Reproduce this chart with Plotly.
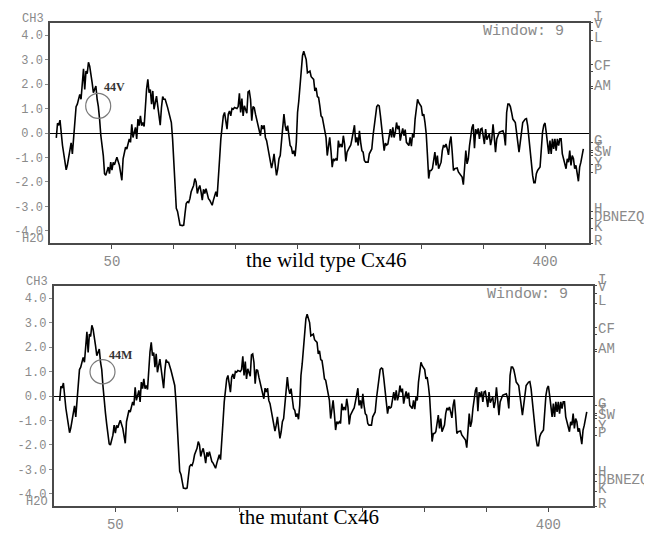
import plotly.graph_objects as go

W, H = 652, 533
OFF = 8  # the page body adds an 8 px margin around the figure
FW, FH = W - OFF, H - OFF

# ---------------- data ----------------
wild_res = [5, 6, 7, 8, 10, 12, 13, 14, 15, 16, 17, 18, 19, 20, 21, 22, 24, 25, 26, 27, 28, 29, 30, 31, 32, 33, 34, 35, 37, 38, 39,
            40, 41, 43, 44, 45, 47, 48, 49, 50, 51, 52, 53, 54, 56, 57, 58, 59, 60, 61, 62, 63, 64, 65, 66, 67, 69, 70, 71, 72, 73,
            74, 75, 76, 77, 78, 79, 80, 81, 82, 83, 84, 86, 87, 88, 89, 90, 91, 92, 93, 95, 97, 98, 99, 100, 101, 102, 103, 104,
            105, 107, 108, 109, 110, 111, 112, 113, 114, 116, 117, 118, 119, 120, 121, 122, 123, 124, 125, 126, 127, 128, 129,
            131, 132, 133, 134, 135, 136, 137, 138, 139, 140, 141, 142, 143, 144, 145, 146, 147, 148, 149, 151, 152, 153, 154,
            155, 156, 157, 158, 159, 160, 161, 162, 163, 164, 165, 166, 167, 168, 170, 171, 172, 173, 174, 175, 176, 177, 178,
            179, 180, 181, 182, 183, 184, 185, 186, 187, 188, 189, 190, 191, 192, 194, 195, 196, 197, 198, 199, 200, 201, 202,
            203, 204, 205, 206, 207, 208, 209, 210, 211, 212, 213, 214, 215, 216, 217, 218, 219, 220, 221, 222, 223, 224, 225,
            226, 227, 228, 229, 230, 231, 232, 233, 234, 235, 236, 237, 238, 239, 240, 242, 243, 244, 245, 246, 247, 248, 249,
            250, 251, 252, 253, 254, 255, 257, 258, 260, 261, 262, 263, 264, 265, 266, 267, 268, 269, 270, 271, 272, 273, 275,
            276, 277, 278, 279, 280, 281, 282, 283, 284, 285, 286, 287, 288, 290, 291, 292, 293, 294, 295, 296, 297, 298, 300,
            301, 302, 303, 304, 305, 306, 307, 308, 309, 310, 311, 312, 313, 314, 316, 317, 318, 319, 320, 321, 322, 323, 324,
            325, 326, 327, 329, 330, 331, 333, 334, 335, 336, 337, 338, 339, 340, 341, 342, 343, 344, 345, 346, 347, 348, 349,
            350, 351, 352, 353, 355, 356, 357, 358, 359, 360, 361, 362, 363, 364, 366, 367, 368, 369, 370, 371, 372, 373, 374,
            375, 376, 377, 378, 379, 380, 381, 382, 384, 385, 386, 387, 388, 389, 390, 391, 392, 393, 394, 396, 397, 398, 399,
            400, 401, 402, 403, 404, 405, 406, 407, 408, 409, 410, 411, 412, 413, 414, 415, 416, 417, 418, 419, 420, 421, 422,
            423, 424, 425, 427, 428, 429, 430, 431]
wild_val = [-0.20, 0.40, 0.32, 0.53, -0.50, -1.30, -1.50, -1.30, -1.05, -0.80, -0.40, -0.85, -0.05, 0.57, 1.08, 1.18, 1.58, 1.38,
            1.99, 2.62, 1.78, 2.53, 2.43, 2.89, 2.73, 2.26, 2.05, 1.65, 1.92, 1.38, 1.08,
            0.57, -0.10, -0.92, -1.66, -1.73, -1.39, -1.66, -1.19, -1.52, -1.20, -1.30, -1.12, -0.99, -1.32, -1.60, -1.93,
            -1.05, -0.78, -0.58, -0.65, -0.49, -0.24, -0.38, 0.36, -0.18, 0.23, -0.24, 0.57, 0.30, 0.70,
            0.30, 0.43, 0.27, 1.31, 1.81, 2.19, 1.65, 1.78, 1.18, 1.72, 0.97, 1.51, 1.18, 0.70, 0.32, 1.04, 1.49, 1.38, 1.38,
            1.04, 0.70, 0.43, -0.24, -1.32, -2.14, -3.08, -3.20, -3.49,
            -3.76, -3.78, -3.76, -3.30, -2.88, -2.81, -2.84, -2.68, -2.40, -2.14, -1.86, -2.00, -2.47, -2.27, -2.14, -2.40,
            -2.74, -2.30, -2.47, -2.27, -2.47, -2.68, -2.74,
            -2.95, -2.74, -2.53, -2.40, -2.60, -2.00, -1.05, -0.24, 0.30, 0.70, 0.84, 0.57, 0.16, 0.77, 0.90, 0.70, 1.00,
            0.97, 1.04, 1.00, 1.08, 1.62, 0.84,
            1.41, 0.70, 1.11, 0.90, 0.81, 1.68, 1.72, 1.38, 0.50, 1.08, 1.04, 0.77, 0.57, 0.30, -0.11, 0.32, 0.16, 0.32,
            -0.18, -0.31, -0.58, -0.85, -1.05,
            -1.43, -1.19, -0.85, -1.32, -1.73, -1.46, -1.05, -0.92, -0.41, 0.09, 0.77, 0.30, 0.09, 0.30, -0.51, -0.58, -0.85,
            -0.72, -0.95, -0.38, 0.84, 1.31, 1.92,
            2.73, 3.16, 3.34, 3.14, 3.00, 2.46, 2.49, 2.53, 2.30, 2.26, 2.19, 1.72, 1.85, 1.49, 1.45, 1.11, 0.70, 0.64, 0.30,
            0.16, -0.18, -0.92, -0.58,
            -0.18, -0.72, -1.39, -1.05, -1.12, -1.05, -1.12, -0.31, -0.58, -0.45, -0.58, -0.11, -0.45, -1.16, -0.78, -0.58,
            -0.49, -0.24, 0.03, 0.32, -0.38, -0.18, -0.51,
            0.09, -0.38, -0.72, -0.78, -1.12, -1.19, -1.19, -0.85, -0.65, -0.11, 0.30, 0.64, 1.08, 1.14, 1.11, 0.70, 0.16,
            -0.45, -0.72, -0.41, -0.49, -0.45, 0.16,
            -0.18, 0.23, -0.18, 0.03, 0.43, 0.16, 0.30, -0.31, -0.04, 0.19, -0.11, 0.14, -0.38, -0.51, -0.18, -0.54, -0.04,
            -0.18, 0.57, 1.00, 1.38, 1.24, 1.08,
            0.70, 0.77, 0.43, -0.04, -0.92, -1.86, -1.53, -1.53, -1.46, -1.12, -0.78, -1.32, -0.92, -1.46, -1.19, -0.72,
            -0.49, -0.58, -0.45, -0.65, -0.89, -0.38, -0.14,
            -0.78, -1.53, -1.46, -1.43, -1.59, -1.66, -1.80, -2.11, -1.32, -0.72, -1.26, -1.05, -0.51, -0.04, 0.23, 0.36,
            -0.62, 0.16, -0.04, 0.19, -0.24, 0.16, 0.19,
            -0.11, -0.45, 0.16, -0.27, -0.04, -0.49, -0.24, 0.36, -0.18, -0.78, -0.24, -0.11, 0.03, 0.05, 0.09, -0.08, -0.51,
            0.84, 1.18, 1.18, 1.08, 0.84, 0.57,
            0.50, 0.43, 0.03, -0.38, -0.78, -0.38, 0.03, 0.43, 0.57, 0.59, 0.30, -0.24, -0.78, -1.32, -1.73, -2.03, -2.03,
            -1.66, -1.53, -1.39, -0.51, 0.03, 0.32,
            0.41, 0.03, -0.38, -0.85, -0.31, -0.85, -0.24, -0.65, -0.24, -0.72, -0.24, -0.51, -0.24, -0.24, -0.85, -1.05,
            -1.32, -1.46, -1.05, -1.19, -0.72, -1.32, -0.92,
            -1.05, -1.46, -1.32, -1.97, -1.39, -1.19, -0.92, -0.65]

# mutant (V44M) differs only in the windows that contain residue 44
mut_patch_res = [40, 41, 42, 43, 44, 45, 46, 47, 48]
mut_patch_val = [0.40, -0.25, -0.70, -1.15, -1.66, -1.95, -2.00, -1.75, -1.60]

x_tickvals = [50, 100, 150, 200, 250, 300, 350, 400]
x_ticktext = ["50", "", "", "", "", "", "", "400"]
y_tickvals = [-4, -3, -2, -1, 0, 1, 2, 3, 4]
y_ticktext = ["-4.0", "-3.0", "-2.0", "-1.0", "0.0", "1.0", "2.0", "3.0", "4.0"]
kd_tickvals = [4.5, 4.2, 3.8, 2.8, 2.5, 1.9, 1.8, -0.4, -0.7, -0.8, -0.9, -1.3, -1.6, -3.2, -3.5, -3.9, -4.5]
kd_labels = ["I", "V", "L", "CF", "AM", "G", "T", "SW", "Y", "P", "H", "DBNEZQ", "K", "R"]
kd_label_vals = [4.5, 4.2, 3.8, 2.65, 1.85, -0.4, -0.7, -0.85, -1.3, -1.6, -3.2, -3.5, -3.9, -4.5]
captions = ["the wild type Cx46", "the mutant Cx46"]
site_labels = ["44V", "44M"]
window_text = "Window: 9"

# ---------------- build mutant series ----------------
mut = dict(zip(wild_res, wild_val))
for r in range(40, 49):
    mut.pop(r, None)
mut.update(dict(zip(mut_patch_res, mut_patch_val)))
mut_res = sorted(mut)
mut_val = [mut[r] for r in mut_res]

# ---------------- layout geometry (page pixels) ----------------
XR = [0, 435.8]
YR = [-4.5, 4.5]
panels = [
    dict(x0=50.1, x1=589.3, ytop=23.0, ybot=245.0, xa="x", ya="y", ya_r="y3"),
    dict(x0=53.5, x1=592.7, ytop=288.0, ybot=510.0, xa="x2", ya="y2", ya_r="y4"),
]


def px(v):
    return (v - OFF) / FW


def py(v):
    return 1 - (v - OFF) / FH


fig = go.Figure()
for p, (rs, vs) in zip(panels, [(wild_res, wild_val), (mut_res, mut_val)]):
    fig.add_trace(go.Scatter(x=rs, y=vs, mode="lines", xaxis=p["xa"], yaxis=p["ya"],
                             line=dict(color="black", width=1.6), showlegend=False, hoverinfo="skip"))
    fig.add_trace(go.Scatter(x=[None], y=[None], xaxis=p["xa"], yaxis=p["ya_r"], showlegend=False,
                             hoverinfo="skip"))

mono = "Liberation Mono, Courier New, monospace"
serif = "Liberation Serif, Times New Roman, serif"
gray = "#8a8a8a"
axcol = "#4a4a4a"

layout = dict(width=FW, height=FH, margin=dict(l=0, r=0, t=0, b=0),
              paper_bgcolor="white", plot_bgcolor="white", showlegend=False)

for i, p in enumerate(panels):
    yl = "yaxis" if i == 0 else "yaxis2"
    yr = "yaxis3" if i == 0 else "yaxis4"
    xl = "xaxis" if i == 0 else "xaxis2"
    layout[xl] = dict(domain=[px(p["x0"]), px(p["x1"])], range=XR, anchor=p["ya"],
                      tickvals=x_tickvals, ticktext=x_ticktext, ticks="outside", ticklen=4,
                      tickwidth=1.2, tickcolor=axcol, showline=True, linecolor=axcol, linewidth=1.5,
                      mirror=True, showgrid=False, zeroline=False,
                      tickfont=dict(family=mono, size=14, color=gray))
    layout[yl] = dict(domain=[py(p["ybot"]), py(p["ytop"])], range=YR, anchor=p["xa"],
                      tickvals=y_tickvals, ticktext=y_ticktext, ticks="outside", ticklen=3,
                      tickwidth=1.2, tickcolor=gray, showline=True, linecolor=axcol, linewidth=1.5,
                      mirror=True, showgrid=False, zeroline=True, zerolinecolor="black",
                      zerolinewidth=1.3, tickfont=dict(family=mono, size=12, color=gray))
    layout[yr] = dict(range=YR, overlaying=p["ya"], side="right", anchor=p["xa"],
                      tickvals=kd_tickvals, ticks="outside", ticklen=3, tickwidth=1.2,
                      tickcolor=axcol, showticklabels=False, showline=False, showgrid=False,
                      zeroline=False)

annotations = []
shapes = []
site_pos = [(52.2, 1.88), (53.8, 1.69)]
circle_px = [((85.7, 110.7), (94.0, 119.3)), ((90.0, 115.0), (362.3, 386.7))]
caption_pos = [(326, 262), (309, 521)]
for i, p in enumerate(panels):
    xs = p["xa"]
    ys = p["ya"]
    annotations.append(dict(text="CH3", xref="paper", yref=ys, x=px(p["x0"] - 4), y=4.5, yshift=4,
                            xanchor="right", yanchor="middle", showarrow=False,
                            font=dict(family=mono, size=12, color=gray)))
    annotations.append(dict(text="H2O", xref="paper", yref=ys, x=px(p["x0"] - 4), y=-4.5, yshift=4,
                            xanchor="right", yanchor="middle", showarrow=False,
                            font=dict(family=mono, size=12, color=gray)))
    for lab, v in zip(kd_labels, kd_label_vals):
        shift = 6 if lab in ("I", "V") else 2
        annotations.append(dict(text=lab, xref="paper", yref=ys, x=px(p["x1"] + 3), y=v, yshift=shift,
                                xanchor="left", yanchor="middle", showarrow=False,
                                font=dict(family=mono, size=14, color=gray)))
    annotations.append(dict(text=window_text, xref="paper", yref=ys, x=px(p["x1"] - 23), y=4.15,
                            xanchor="right", yanchor="middle", showarrow=False,
                            font=dict(family=mono, size=15, color=gray)))
    annotations.append(dict(text="<b>" + site_labels[i] + "</b>", xref=xs, yref=ys,
                            x=site_pos[i][0], y=site_pos[i][1], showarrow=False,
                            font=dict(family=serif, size=12, color="#333")))
    (cx0, cx1), (cy0, cy1) = circle_px[i]
    shapes.append(dict(type="circle", xref="paper", yref="paper",
                       x0=px(cx0), x1=px(cx1), y0=py(cy1), y1=py(cy0),
                       line=dict(color="#7a7a7a", width=1.2)))
    annotations.append(dict(text=captions[i], xref="paper", yref="paper",
                            x=px(caption_pos[i][0]), y=py(caption_pos[i][1]),
                            xanchor="center", yanchor="middle", showarrow=False,
                            font=dict(family=serif, size=21, color="black")))

layout["annotations"] = annotations
layout["shapes"] = shapes
fig.update_layout(**layout)
fig.write_html("out.html")
